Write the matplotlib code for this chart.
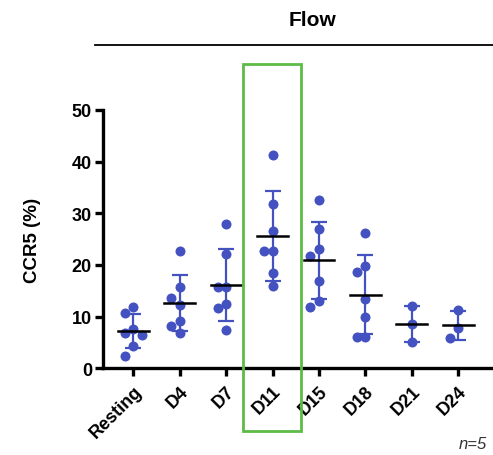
import matplotlib.pyplot as plt
import numpy as np
from matplotlib.patches import Rectangle

plt.rcParams['font.family'] = ['Liberation Sans', 'DejaVu Sans']

groups = ['Resting', 'D4', 'D7', 'D11', 'D15', 'D18', 'D21', 'D24']
ccr5 = [
    [11.8, 10.8, 7.7, 6.8, 6.4, 4.4, 2.4],
    [22.6, 15.8, 13.7, 12.2, 9.2, 8.2, 6.8],
    [27.9, 22.2, 15.7, 15.7, 12.4, 11.6, 7.5],
    [41.3, 31.8, 26.5, 22.6, 22.6, 18.4, 16.0],
    [32.6, 26.9, 23.1, 21.8, 16.8, 13.1, 11.8],
    [26.2, 19.8, 18.6, 13.4, 9.9, 6.0, 6.0],
    [12.1, 8.6, 5.1],
    [11.3, 7.9, 5.8],
]

blue = '#4352c0'
green = '#5dbb46'

fig = plt.figure(figsize=(4.93, 4.56), dpi=100)
ax = fig.add_axes([0.209, 0.19, 0.791, 0.567])
ax.set_xlim(-0.653, 7.75)
ax.set_ylim(0, 50)

# pixel scales, used to spread overlapping points sideways
px_x = 46.43
px_y = 5.17


def swarm(vals, step=8.5, gap=11.0):
    placed = []
    offs = []
    for v in vals:
        best, best_d = 0, -1
        for k in [0, -1, 1]:
            d = min([np.hypot(k * step - o, (v - pv) * px_y) for o, pv in placed] or [99])
            if d >= gap:
                best = k
                break
            if d > best_d:
                best, best_d = k, d
        placed.append((best * step, v))
        offs.append(best * step / px_x)
    return np.array(offs)


for i, vals in enumerate(ccr5):
    vals = np.array(vals)
    xs = i + swarm(vals)
    ax.plot(xs, vals, 'o', color=blue, ms=7.2, mec='none', zorder=3)
    m = vals.mean()
    sd = vals.std(ddof=1)
    ax.errorbar(i, m, yerr=sd, color=blue, lw=1.6, capsize=6, capthick=1.6, zorder=2)
    ax.plot([i - 0.33, i + 0.33], [m, m], color='black', lw=1.8, zorder=4)

for s in ['top', 'right']:
    ax.spines[s].set_visible(False)
for s in ['left', 'bottom']:
    ax.spines[s].set_linewidth(2.4)

ax.set_yticks([0, 10, 20, 30, 40, 50])
ax.set_xticks(range(len(groups)))
ax.set_xticklabels(groups, rotation=45, ha='right', rotation_mode='anchor')
ax.tick_params(width=2.4, length=6, labelsize=13, pad=2)
ax.tick_params(axis='x', pad=4)
for lab in ax.get_xticklabels() + ax.get_yticklabels():
    lab.set_fontweight('bold')
ax.set_ylabel('CCR5 (%)', fontsize=13.5, fontweight='bold', labelpad=22)

fig.text(0.633, 0.955, 'Flow', fontsize=15, fontweight='bold', ha='center', va='center')
fig.add_artist(plt.Line2D([0.193, 1.0], [0.899, 0.899], color='black', lw=1.3))

fig.add_artist(Rectangle((0.493, 0.053), 0.118, 0.804, fill=False,
                         edgecolor=green, lw=2, transform=fig.transFigure))

fig.text(0.93, 0.025, 'n=5', fontsize=12, style='italic', color='#333333', ha='left', va='center')

fig.savefig('out.png', dpi=100)
